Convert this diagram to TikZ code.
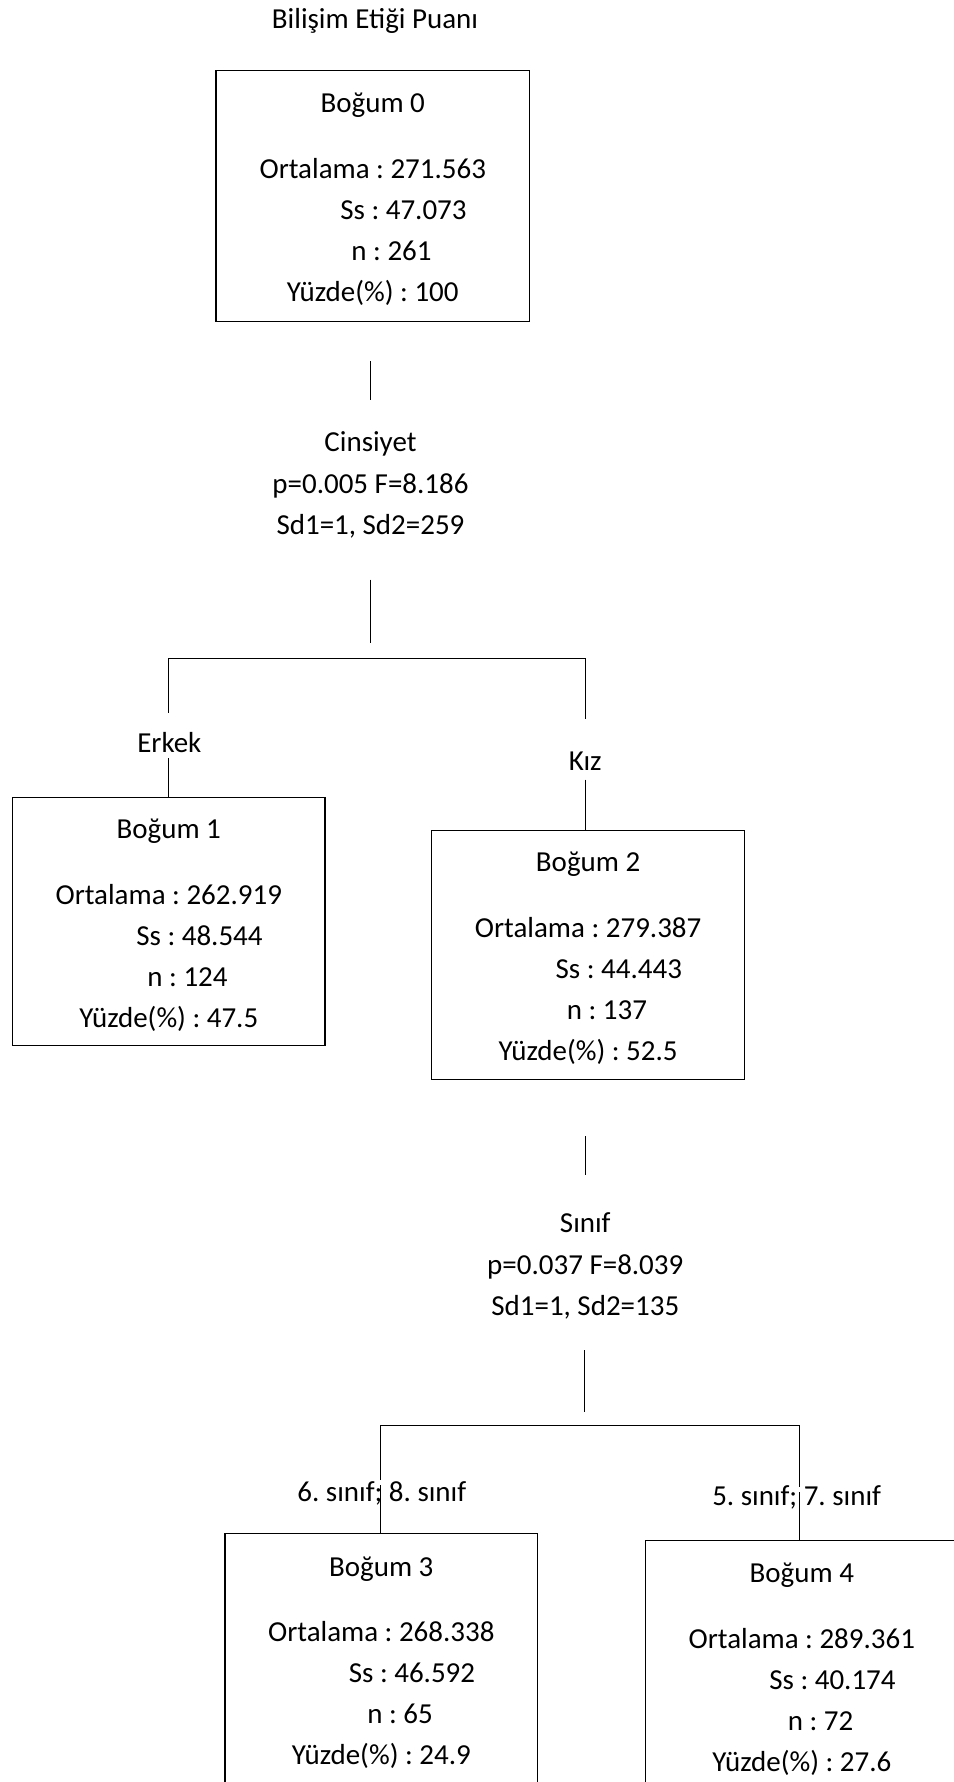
\documentclass[tikz,border=0pt]{standalone}
\usepackage{fontspec}
\setmainfont{Carlito}
\frenchspacing
\newcommand{\bogumtext}[5]{\rule{0pt}{23pt}Boğum #1\\[22pt]Ortalama : #2\\\hspace*{54pt}Ss : #3\\\hspace*{33pt}n : #4\\Yüzde(\%) : #5}
\begin{document}
\begin{tikzpicture}[x=1pt,y=-1pt,
  box/.style={draw, line width=1.1pt, minimum width=275pt, minimum height=220pt,
    align=center, inner sep=0pt, font=\fontsize{25.5}{36}\selectfont},
  lbl/.style={align=center, inner sep=0pt, font=\fontsize{25.5}{36.5}\selectfont},
  conn/.style={line width=0.8pt}]
\useasboundingbox (0,0) rectangle (839,1568);

% title
\node[lbl] (title) at (330,18) {Bilişim Etiği Puanı};

% boxes
\node[box, minimum width=276pt, minimum height=221pt] (b0) at (328,172.5) {\bogumtext{0}{271.563}{47.073}{261}{100}};
\node[box, minimum height=218pt] (b1) at (148.5,811) {\bogumtext{1}{262.919}{48.544}{124}{47.5}};
\node[box, minimum height=219pt] (b2) at (517.5,840.5) {\bogumtext{2}{279.387}{44.443}{137}{52.5}};
\node[box, minimum height=221pt] (b3) at (335.5,1460) {\bogumtext{3}{268.338}{46.592}{65}{24.9}};
\node[box, minimum height=221pt] (b4) at (705.5,1466) {\bogumtext{4}{289.361}{40.174}{72}{27.6}};

% split 1
\coordinate (s0a) at (326,318);
\coordinate (s0b) at (326,352);
\draw[conn] (s0a) -- (s0b);
\node[lbl] (cins) at (326,427) {Cinsiyet\\p=0.005 F=8.186\\Sd1=1, Sd2=259};
\coordinate (s1a) at (326,510);
\coordinate (s1b) at (326,566);
\draw[conn] (s1a) -- (s1b);
\coordinate (h1l) at (148,579);
\coordinate (h1r) at (515,579);
\coordinate (h1ld) at (148,627);
\coordinate (h1rd) at (515,633);
\draw[conn] (h1ld) -- (h1l) -- (h1r) -- (h1rd);
\node[lbl] (erkek) at (149,653) {Erkek};
\node[lbl] (kiz) at (515,670) {Kız};
\coordinate (e1) at (148,667);
\draw[conn] (e1) -- (b1.north -| e1);
\coordinate (k1) at (515,686);
\draw[conn] (k1) -- (b2.north -| k1);

% split 2
\coordinate (s2a) at (515,1000);
\coordinate (s2b) at (515,1034);
\draw[conn] (s2a) -- (s2b);
\node[lbl] (sinif) at (515,1114) {Sınıf\\p=0.037 F=8.039\\Sd1=1, Sd2=135};
\coordinate (s3a) at (514,1188);
\coordinate (s3b) at (514,1242);
\draw[conn] (s3a) -- (s3b);
\coordinate (h2l) at (335,1254);
\coordinate (h2r) at (703,1254);
\coordinate (h2ld) at (335,1302);
\coordinate (h2rd) at (703,1308);
\draw[conn] (h2ld) -- (h2l) -- (h2r) -- (h2rd);
\node[lbl] (c68) at (336,1314) {6. sınıf; 8. sınıf};
\node[lbl] (c57) at (701,1318) {5. sınıf; 7. sınıf};
\coordinate (g3) at (335,1307);
\draw[conn] (g3) -- (b3.north -| g3);
\coordinate (g4) at (703,1313);
\draw[conn] (g4) -- (b4.north -| g4);
\end{tikzpicture}
\end{document}
